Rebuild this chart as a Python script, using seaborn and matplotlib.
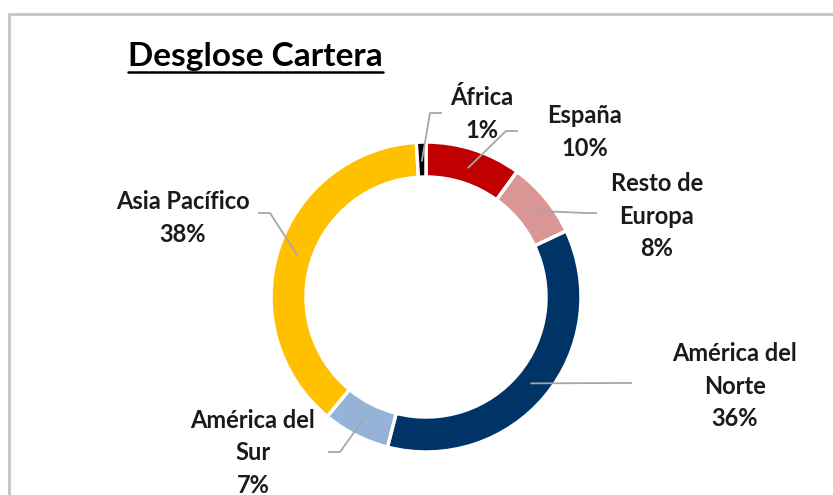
import matplotlib
matplotlib.use("Agg")
import matplotlib.pyplot as plt
import seaborn as sns
import numpy as np

# data
regions = ["España", "Resto de\nEuropa", "América del\nNorte", "América del\nSur",
           "Asia Pacífico", "África"]
shares = [10, 8, 36, 7, 38, 1]
colors = ["#C00000", "#DA9694", "#003366", "#95B3D7", "#FFC000", "#000000"]

# layout (pixels from top-left of the 833x495 image)
W, H = 833, 495
center_px = (426, 297)
radius = 155
ring = 35
label_pos = [(585, 132), (657, 216), (735, 386), (253, 453), (183, 218), (482, 114)]
leader_end = [(518, 131), (597, 213), (632, 383), (328, 452), (258, 213), (442, 113)]

sns.set_theme(style="white")
plt.rcParams["font.family"] = ["Lato", "DejaVu Sans"]

fig = plt.figure(figsize=(W / 100, H / 100), dpi=100)
ax = fig.add_axes([0, 0, 1, 1])

cx, cy = center_px[0], H - center_px[1]
wedges, _ = ax.pie(shares, colors=colors, startangle=90, counterclock=False,
                   radius=radius, center=(cx, cy),
                   wedgeprops=dict(width=ring, edgecolor="white", linewidth=2.5))
ax.set_xlim(0, W)
ax.set_ylim(0, H)
ax.set_aspect("equal")
ax.axis("off")

# labels + leader lines
for w, name, val, (lx, ly), (ex, ey) in zip(wedges, regions, shares, label_pos, leader_end):
    ang = np.deg2rad((w.theta1 + w.theta2) / 2)
    r0 = radius - ring / 2 - 2
    sx, sy = cx + r0 * np.cos(ang), cy + r0 * np.sin(ang)
    ey = H - ey
    side = 1 if ex > sx else -1
    kx = ex - side * 12
    ax.plot([sx, kx, ex], [sy, ey, ey], color="#A6A6A6", lw=1.3, solid_capstyle="butt")
    ax.text(lx, H - ly, f"{name}\n{val}%", ha="center", va="center",
            fontsize=17, fontweight="bold", color="#1a1a1a", linespacing=1.5)

# title with underline
title = fig.text(128 / W, 1 - 56 / H, "Desglose Cartera", ha="left", va="center",
                 fontsize=24, fontweight="bold", color="#000000")
fig.canvas.draw()
bb = title.get_window_extent()
fig.add_artist(plt.Line2D([bb.x0 / W, bb.x1 / W], [1 - 72 / H, 1 - 72 / H],
                          color="black", lw=1.8, transform=fig.transFigure))

# chart border
fig.add_artist(plt.Line2D([9 / W, 9 / W, 1.01], [-0.01, 1 - 14 / H, 1 - 14 / H],
                          color="#C8C8C8", lw=2.2, transform=fig.transFigure))

fig.savefig("out.png", dpi=100)
